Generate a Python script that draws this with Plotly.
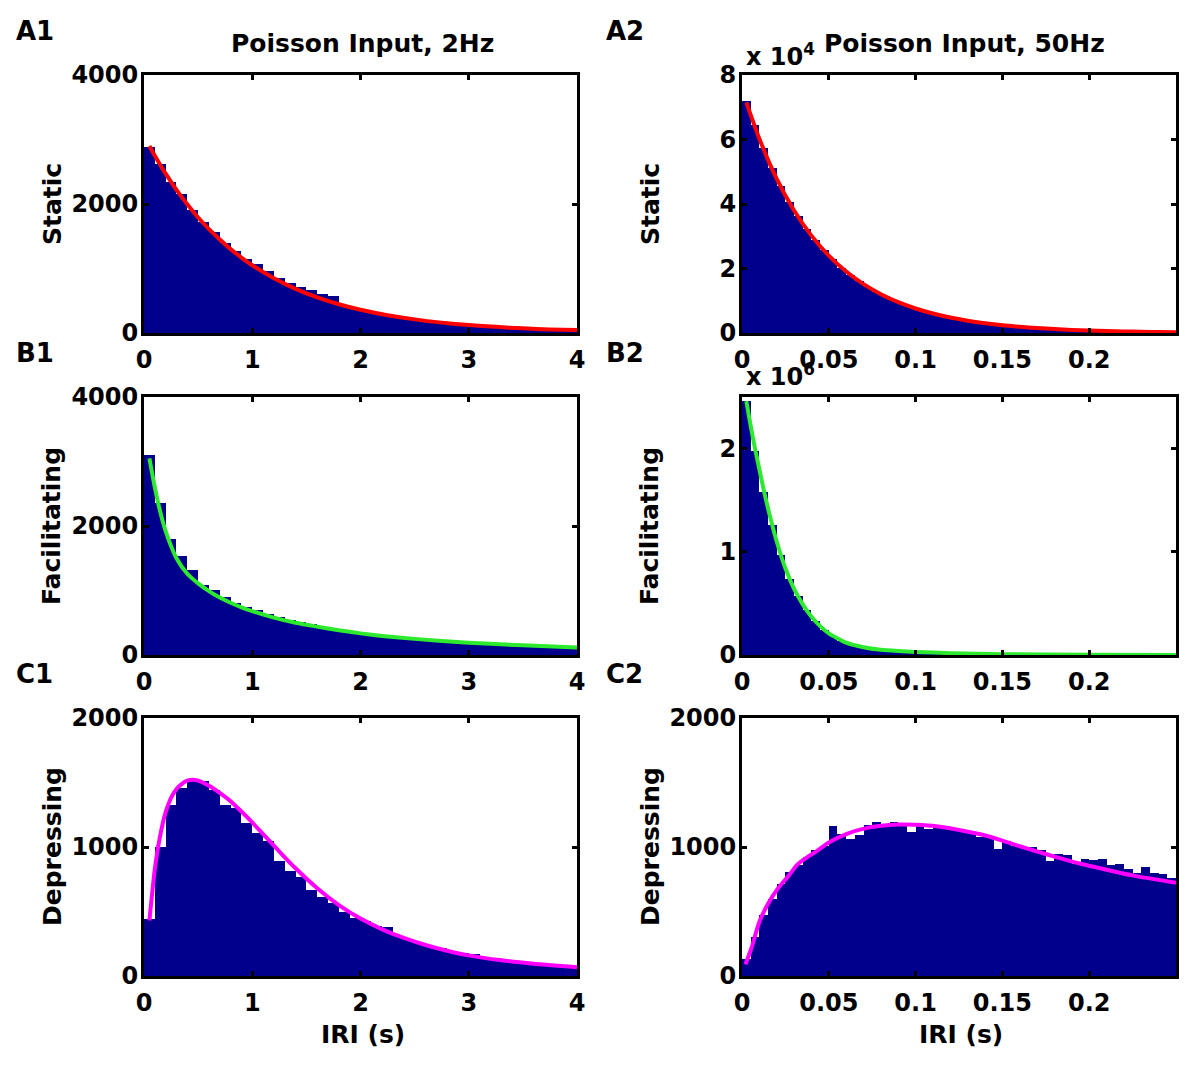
import numpy as np
import plotly.graph_objects as go

# ---------------- data ----------------
# bin centres (s)
bins_2hz = np.round(np.arange(0.05, 4.0, 0.1), 4)        # 40 bins, width 0.1
bins_50hz = np.round(np.arange(0.0025, 0.25, 0.005), 5)  # 50 bins, width 0.005

# A1 static, 2 Hz (counts)
static_2hz = [2890, 2620, 2340, 2150, 1900, 1720, 1570, 1400, 1270, 1140,
              1070, 960, 850, 780, 720, 660, 600, 570, 430, 390,
              350, 320, 285, 260, 235, 210, 190, 172, 155, 140,
              126, 114, 103, 93, 84, 76, 68, 62, 56, 50]
static_2hz_fit_x = [0.05, 0.1, 0.2, 0.3, 0.4, 0.5, 0.6, 0.7, 0.8, 0.9, 1.0, 1.2, 1.4,
                    1.6, 1.8, 2.0, 2.25, 2.5, 2.75, 3.0, 3.25, 3.5, 3.75, 4.0]
static_2hz_fit_y = [2900, 2750, 2470, 2220, 1995, 1790, 1610, 1450, 1300, 1170, 1050, 850, 685,
                    552, 446, 360, 276, 211, 161, 123, 95, 72, 56, 45]

# A2 static, 50 Hz (counts x 1e4)
static_50hz = [7.2, 6.45, 5.75, 5.12, 4.56, 4.07, 3.62, 3.23, 2.88, 2.56,
               2.28, 2.03, 1.81, 1.62, 1.44, 1.28, 1.14, 1.02, 0.91, 0.81,
               0.72, 0.64, 0.57, 0.51, 0.45, 0.40, 0.36, 0.32, 0.29, 0.26,
               0.23, 0.20, 0.18, 0.16, 0.143, 0.128, 0.114, 0.101, 0.09, 0.08,
               0.072, 0.064, 0.057, 0.051, 0.045, 0.04, 0.036, 0.032, 0.029, 0.026]
static_50hz_fit_x = [0.0025, 0.01, 0.02, 0.03, 0.04, 0.05, 0.06, 0.07, 0.08, 0.09, 0.10,
                     0.11, 0.12, 0.13, 0.14, 0.15, 0.16, 0.17, 0.18, 0.19, 0.20,
                     0.21, 0.22, 0.23, 0.24, 0.25]
static_50hz_fit_y = [7.15, 6.02, 4.78, 3.80, 3.02, 2.40, 1.905, 1.514, 1.203, 0.955, 0.759,
                     0.603, 0.479, 0.381, 0.303, 0.240, 0.191, 0.152, 0.121, 0.096, 0.076,
                     0.061, 0.048, 0.038, 0.030, 0.024]

# B1 facilitating, 2 Hz (counts)
facil_2hz = [3100, 2350, 1800, 1530, 1320, 1090, 1010, 900, 810, 745,
             690, 640, 590, 550, 510, 475, 420, 410, 385, 360,
             330, 312, 295, 280, 262, 248, 235, 222, 210, 198,
             186, 176, 167, 158, 150, 142, 135, 128, 122, 116]
facil_2hz_fit_x = [0.05, 0.1, 0.15, 0.2, 0.3, 0.4, 0.5, 0.6, 0.7, 0.8, 0.9, 1.0, 1.2,
                   1.4, 1.6, 1.8, 2.0, 2.2, 2.5, 3.0, 3.5, 4.0]
facil_2hz_fit_y = [3050, 2600, 2220, 1920, 1500, 1260, 1110, 990, 890, 810, 740, 680, 580,
                   500, 440, 385, 335, 295, 250, 190, 150, 115]

# B2 facilitating, 50 Hz (counts x 1e6)
facil_50hz = [2.46, 1.98, 1.58, 1.26, 0.97, 0.74, 0.57, 0.44, 0.33, 0.245,
              0.18, 0.135, 0.105, 0.085, 0.07, 0.058, 0.048, 0.042, 0.037, 0.032,
              0.028, 0.024, 0.020, 0.017, 0.015, 0.013, 0.011, 0.009, 0.008, 0.007,
              0.006, 0.005, 0.0045, 0.004, 0.0035, 0.003, 0.0027, 0.0024, 0.0021, 0.0019,
              0.0017, 0.0015, 0.0013, 0.0012, 0.0011, 0.001, 0.0009, 0.0008, 0.0007, 0.0006]
facil_50hz_fit_x = [0.0025, 0.005, 0.0075, 0.01, 0.0125, 0.015, 0.02, 0.025, 0.03, 0.035,
                    0.04, 0.045, 0.05, 0.06, 0.07, 0.08, 0.09, 0.1, 0.12, 0.15, 0.2, 0.25]
facil_50hz_fit_y = [2.46, 2.22, 2.0, 1.80, 1.60, 1.42, 1.10, 0.84, 0.64, 0.49,
                    0.37, 0.28, 0.21, 0.12, 0.075, 0.05, 0.038, 0.03, 0.018, 0.008, 0.003, 0.001]

# C1 depressing, 2 Hz (counts)
depr_2hz = [442, 1000, 1326, 1457, 1527, 1512, 1442, 1326, 1300, 1186,
            1105, 1050, 895, 817, 765, 665, 612, 565, 500, 450,
            425, 388, 380, 310, 280, 255, 233, 215, 195, 180,
            170, 150, 138, 125, 115, 105, 95, 88, 80, 72]
depr_2hz_fit_x = [0.05, 0.1, 0.15, 0.2, 0.25, 0.3, 0.35, 0.4, 0.45, 0.5, 0.6, 0.7, 0.8,
                  0.9, 1.0, 1.1, 1.2, 1.3, 1.4, 1.6, 1.8, 2.0, 2.2, 2.4, 2.6, 2.8, 3.0,
                  3.3, 3.6, 4.0]
depr_2hz_fit_y = [430, 830, 1090, 1270, 1380, 1450, 1490, 1515, 1522, 1515, 1475, 1420, 1355,
                  1275, 1190, 1100, 1010, 920, 835, 680, 550, 445, 362, 295, 240, 196, 160,
                  122, 95, 68]

# C2 depressing, 50 Hz (counts)
depr_50hz = [130, 300, 470, 600, 710, 810, 860, 920, 980, 1010,
             1160, 1100, 1060, 1090, 1170, 1190, 1165, 1195, 1185, 1120,
             1175, 1140, 1150, 1165, 1130, 1130, 1100, 1080, 1085, 985,
             1050, 1010, 1000, 1000, 975, 895, 945, 940, 870, 905,
             900, 905, 860, 870, 830, 800, 845, 800, 790, 760]
depr_50hz_fit_x = [0.002, 0.0055, 0.01, 0.015, 0.021, 0.027, 0.032, 0.038, 0.043, 0.05,
                   0.06, 0.072, 0.08, 0.09, 0.1, 0.112, 0.125, 0.138, 0.15, 0.16, 0.17,
                   0.1825, 0.195, 0.205, 0.215, 0.227, 0.24, 0.25]
depr_50hz_fit_y = [90, 219, 420, 560, 684, 780, 865, 925, 968, 1035,
                   1100, 1148, 1165, 1174, 1172, 1161, 1132, 1097, 1050, 1006, 965,
                   916, 870, 839, 808, 774, 745, 723]

row_names = ["Static", "Facilitating", "Depressing"]
col_titles = ["Poisson Input, 2Hz", "Poisson Input, 50Hz"]
panel_labels = [["A1", "A2"], ["B1", "B2"], ["C1", "C2"]]

# ---------------- style ----------------
W, H = 1200, 1072
OFF = 8  # page body margin of the browser
NAVY = "#00008C"
FIT_COLORS = ["#FF0000", "#2EEA2E", "#FF00FF"]
FONT = "DejaVu Sans"
TICK_SIZE = 24
LABEL_SIZE = 25

col_px = [(144, 577), (742, 1176)]
row_px = [(75, 333), (397, 655), (718, 976)]


def pxx(x):
    return (x - OFF) / W


def pxy(y):
    return 1 - (y - OFF) / H


panels = [
    (static_2hz, bins_2hz, 0.1, static_2hz_fit_x, static_2hz_fit_y),
    (static_50hz, bins_50hz, 0.005, static_50hz_fit_x, static_50hz_fit_y),
    (facil_2hz, bins_2hz, 0.1, facil_2hz_fit_x, facil_2hz_fit_y),
    (facil_50hz, bins_50hz, 0.005, facil_50hz_fit_x, facil_50hz_fit_y),
    (depr_2hz, bins_2hz, 0.1, depr_2hz_fit_x, depr_2hz_fit_y),
    (depr_50hz, bins_50hz, 0.005, depr_50hz_fit_x, depr_50hz_fit_y),
]

yaxis_specs = [
    dict(range=[0, 4000], tickvals=[0, 2000, 4000]),
    dict(range=[0, 8], tickvals=[0, 2, 4, 6, 8]),
    dict(range=[0, 4000], tickvals=[0, 2000, 4000]),
    dict(range=[0, 2.5], tickvals=[0, 1, 2]),
    dict(range=[0, 2000], tickvals=[0, 1000, 2000]),
    dict(range=[0, 2000], tickvals=[0, 1000, 2000]),
]
xaxis_specs = [
    dict(range=[0, 4], tickvals=[0, 1, 2, 3, 4], ticktext=["0", "1", "2", "3", "4"]),
    dict(range=[0, 0.25], tickvals=[0, 0.05, 0.1, 0.15, 0.2],
         ticktext=["0", "0.05", "0.1", "0.15", "0.2"]),
]

fig = go.Figure()
layout = {}
common_axis = dict(
    showline=True, linecolor="black", linewidth=3, mirror="allticks",
    ticks="inside", ticklen=5, tickwidth=3, tickcolor="black",
    showgrid=False, zeroline=False, fixedrange=True, automargin=False,
    tickfont=dict(family=FONT, size=TICK_SIZE, color="black", weight="bold"),
)

for i, (counts, centers, bw, fx, fy) in enumerate(panels):
    r, c = divmod(i, 2)
    n = i + 1
    xa = "x" if n == 1 else f"x{n}"
    ya = "y" if n == 1 else f"y{n}"
    fig.add_trace(go.Bar(x=centers, y=counts, width=bw, xaxis=xa, yaxis=ya,
                         marker=dict(color=NAVY, line=dict(width=0)),
                         showlegend=False, hoverinfo="skip"))
    fig.add_trace(go.Scatter(x=fx, y=fy, mode="lines", xaxis=xa, yaxis=ya,
                             line=dict(color=FIT_COLORS[r], width=4, shape="spline", smoothing=0.6),
                             showlegend=False, hoverinfo="skip"))
    x0, x1 = col_px[c]
    y0, y1 = row_px[r]
    xkey = "xaxis" if n == 1 else f"xaxis{n}"
    ykey = "yaxis" if n == 1 else f"yaxis{n}"
    layout[xkey] = dict(common_axis, domain=[pxx(x0), pxx(x1)], anchor=ya,
                        ticklabelstandoff=3, **xaxis_specs[c])
    layout[ykey] = dict(common_axis, domain=[pxy(y1), pxy(y0)], anchor=xa,
                        ticklabelstandoff=-2, **yaxis_specs[i])

fig.update_layout(**layout)

ann = []


def add_text(text, x, y, size, xanchor="center", yanchor="middle", angle=0):
    ann.append(dict(text=text, x=pxx(x), y=pxy(y), xref="paper", yref="paper",
                    xanchor=xanchor, yanchor=yanchor, showarrow=False, textangle=angle,
                    font=dict(family=FONT, size=size, color="black", weight="bold")))


# panel letters
for r in range(3):
    for c in range(2):
        xl = 14 if c == 0 else 604
        add_text(panel_labels[r][c], xl, row_px[r][0] - 44, 26, xanchor="left")

# column titles
add_text(col_titles[0], (col_px[0][0] + col_px[0][1]) / 2 + 2, 43, LABEL_SIZE)
add_text(col_titles[1], (col_px[1][0] + col_px[1][1]) / 2 + 5, 43, LABEL_SIZE)

# y labels
for r in range(3):
    ym = (row_px[r][0] + row_px[r][1]) / 2
    add_text(row_names[r], 52, ym, LABEL_SIZE, angle=-90)
    add_text(row_names[r], 650, ym, LABEL_SIZE, angle=-90)

# x labels
add_text("IRI (s)", (col_px[0][0] + col_px[0][1]) / 2 + 2, 1034, LABEL_SIZE)
add_text("IRI (s)", (col_px[1][0] + col_px[1][1]) / 2 + 2, 1034, LABEL_SIZE)

# exponent labels
add_text("x 10<sup>4</sup>", 744, 55, TICK_SIZE, xanchor="left")
add_text("x 10<sup>6</sup>", 744, 375, TICK_SIZE, xanchor="left")

fig.update_layout(
    template="none",
    annotations=ann,
    width=W, height=H,
    autosize=False,
    margin=dict(l=0, r=0, t=0, b=0, pad=0),
    paper_bgcolor="white", plot_bgcolor="white",
    bargap=0, barmode="overlay",
    showlegend=False,
)

fig.write_html("out.html")
